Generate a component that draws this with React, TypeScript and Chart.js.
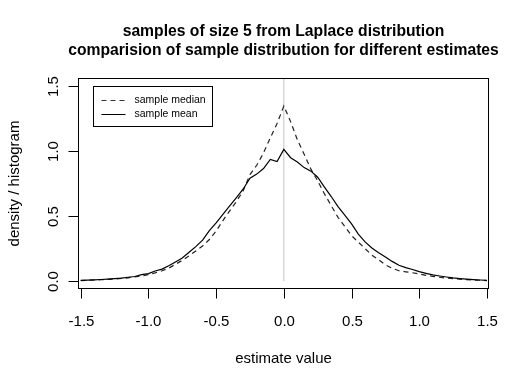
import React, { useEffect, useRef } from "react";
import { Chart, registerables } from "chart.js";

Chart.register(...registerables);

const TITLE_LINES = [
  "samples of size 5 from Laplace distribution",
  "comparision of sample distribution for different estimates",
];
const X_LABEL = "estimate value";
const Y_LABEL = "density / histogram";

const X_TICKS = [-1.5, -1.0, -0.5, 0.0, 0.5, 1.0, 1.5];
const X_TICK_LABELS = ["-1.5", "-1.0", "-0.5", "0.0", "0.5", "1.0", "1.5"];
const Y_TICKS = [0, 0.5, 1.0, 1.5];
const Y_TICK_LABELS = ["0.0", "0.5", "1.0", "1.5"];

const X_RANGE = [-1.52, 1.515];
const Y_RANGE = [-0.06, 1.56];

const SERIES_LABELS = ["sample median", "sample mean"];

const ESTIMATE_VALUES = [
  -1.5, -1.45, -1.4, -1.35, -1.3, -1.25, -1.2, -1.15, -1.1, -1.05,
  -1.0, -0.95, -0.9, -0.85, -0.8, -0.75, -0.7, -0.65, -0.6, -0.55,
  -0.5, -0.45, -0.4, -0.35, -0.3, -0.25, -0.2, -0.15, -0.1, -0.05,
  0.0, 0.05, 0.1, 0.15, 0.2, 0.25, 0.3, 0.35, 0.4, 0.45,
  0.5, 0.55, 0.6, 0.65, 0.7, 0.75, 0.8, 0.85, 0.9, 0.95,
  1.0, 1.05, 1.1, 1.15, 1.2, 1.25, 1.3, 1.35, 1.4, 1.45, 1.5,
];

const MEDIAN_DENSITY = [
  0.005, 0.007, 0.009, 0.011, 0.014, 0.017, 0.021, 0.026, 0.033, 0.04,
  0.05, 0.064, 0.08, 0.1, 0.13, 0.16, 0.195, 0.232, 0.27, 0.32,
  0.385, 0.465, 0.54, 0.612, 0.695, 0.818, 0.89, 0.985, 1.1, 1.21,
  1.345, 1.225, 1.085, 0.975, 0.86, 0.77, 0.67, 0.58, 0.49, 0.42,
  0.35, 0.3, 0.25, 0.2, 0.165, 0.125, 0.1, 0.08, 0.072, 0.065,
  0.055, 0.045, 0.037, 0.03, 0.024, 0.019, 0.015, 0.012, 0.009, 0.007, 0.005,
];

const MEAN_DENSITY = [
  0.006, 0.008, 0.01, 0.013, 0.016, 0.02, 0.024, 0.03, 0.036, 0.05,
  0.058, 0.078, 0.093, 0.118, 0.148, 0.178, 0.222, 0.265, 0.315, 0.388,
  0.447, 0.512, 0.578, 0.642, 0.708, 0.79, 0.822, 0.865, 0.935, 0.918,
  1.012, 0.948, 0.915, 0.872, 0.845, 0.798, 0.722, 0.65, 0.572, 0.508,
  0.44, 0.362, 0.302, 0.255, 0.218, 0.185, 0.152, 0.122, 0.104, 0.09,
  0.073, 0.06, 0.048, 0.04, 0.032, 0.025, 0.02, 0.016, 0.012, 0.009, 0.006,
];

const REF_LINE_X = [0, 0];
const REF_LINE_Y = [0, 1.56];

const FONT = '"Liberation Sans", Arial, Helvetica, sans-serif';

const decorPlugin = {
  id: "rdecor",
  afterDraw(chart: any) {
    const ctx = chart.ctx as CanvasRenderingContext2D;
    const { left, top, right, bottom } = chart.chartArea;
    const xs = chart.scales.x;
    const ys = chart.scales.y;
    ctx.save();
    ctx.strokeStyle = "#000";
    ctx.fillStyle = "#000";
    ctx.lineWidth = 1;
    ctx.setLineDash([]);

    // box
    const L = Math.round(left) + 0.5;
    const T = Math.round(top) + 0.5;
    const R = Math.round(right) - 0.5;
    const B = Math.round(bottom) - 0.5;
    ctx.strokeRect(L, T, R - L, B - T);

    // x ticks
    ctx.font = `15px ${FONT}`;
    ctx.textAlign = "center";
    ctx.textBaseline = "alphabetic";
    X_TICKS.forEach((v, i) => {
      const px = Math.round(xs.getPixelForValue(v)) + 0.5;
      ctx.beginPath();
      ctx.moveTo(px, B);
      ctx.lineTo(px, B + 10);
      ctx.stroke();
      ctx.fillText(X_TICK_LABELS[i], px, B + 37.5);
    });

    // y ticks
    Y_TICKS.forEach((v, i) => {
      const py = Math.round(ys.getPixelForValue(v)) + 0.5;
      ctx.beginPath();
      ctx.moveTo(L - 10, py);
      ctx.lineTo(L, py);
      ctx.stroke();
      ctx.save();
      ctx.translate(L - 20.5, py);
      ctx.rotate(-Math.PI / 2);
      ctx.textAlign = "center";
      ctx.textBaseline = "alphabetic";
      ctx.fillText(Y_TICK_LABELS[i], 0, 0);
      ctx.restore();
    });

    // axis titles
    ctx.textAlign = "center";
    ctx.textBaseline = "alphabetic";
    ctx.fillText(X_LABEL, (left + right) / 2, B + 74);
    ctx.save();
    ctx.translate(19, (top + bottom) / 2);
    ctx.rotate(-Math.PI / 2);
    ctx.fillText(Y_LABEL, 0, 0);
    ctx.restore();

    // main title
    ctx.font = `bold 15.7px ${FONT}`;
    ctx.fillText(TITLE_LINES[0], (left + right) / 2, 35.5);
    ctx.fillText(TITLE_LINES[1], (left + right) / 2, 54.5);

    // legend
    const lx = L + 15;
    const ly = T + 8;
    ctx.strokeRect(lx, ly, 119, 40);
    const styles = [[5, 4], []];
    ctx.font = `10.5px ${FONT}`;
    ctx.textAlign = "left";
    ctx.textBaseline = "middle";
    SERIES_LABELS.forEach((lab, i) => {
      const y = ly + 14 + i * 14;
      ctx.setLineDash(styles[i]);
      ctx.strokeStyle = i === 0 ? "#333" : "#000";
      ctx.beginPath();
      ctx.moveTo(lx + 8, y);
      ctx.lineTo(lx + 32, y);
      ctx.stroke();
      ctx.setLineDash([]);
      ctx.fillText(lab, lx + 41, y);
    });
    ctx.restore();
  },
};

export default function App() {
  const ref = useRef<HTMLCanvasElement | null>(null);
  useEffect(() => {
    if (!ref.current) return;
    const median = ESTIMATE_VALUES.map((x, i) => ({ x, y: MEDIAN_DENSITY[i] }));
    const mean = ESTIMATE_VALUES.map((x, i) => ({ x, y: MEAN_DENSITY[i] }));
    const refLine = REF_LINE_X.map((x, i) => ({ x, y: REF_LINE_Y[i] }));
    const chart = new Chart(ref.current, {
      type: "line",
      data: {
        datasets: [
          {
            label: SERIES_LABELS[0],
            data: median,
            borderColor: "#222",
            borderWidth: 1.2,
            borderDash: [5, 4],
            pointRadius: 0,
            tension: 0,
            fill: false,
            order: 1,
          },
          {
            label: SERIES_LABELS[1],
            data: mean,
            borderColor: "#000",
            borderWidth: 1.2,
            pointRadius: 0,
            tension: 0,
            fill: false,
            order: 0,
          },
          {
            label: "ref",
            data: refLine,
            borderColor: "#c4c4c4",
            borderWidth: 1,
            pointRadius: 0,
            fill: false,
            order: 5,
          },
        ],
      },
      options: {
        animation: false,
        responsive: false,
        maintainAspectRatio: false,
        devicePixelRatio: 1,
        layout: { padding: { top: 78, right: 40, left: 0, bottom: 0 } },
        plugins: {
          legend: { display: false },
          title: { display: false },
          tooltip: { enabled: false },
        },
        scales: {
          x: {
            type: "linear",
            min: X_RANGE[0],
            max: X_RANGE[1],
            grid: { display: false },
            border: { display: false },
            ticks: { display: false },
            afterFit: (s: any) => {
              s.height = 99;
            },
          },
          y: {
            type: "linear",
            min: Y_RANGE[0],
            max: Y_RANGE[1],
            grid: { display: false },
            border: { display: false },
            ticks: { display: false },
            afterFit: (s: any) => {
              s.width = 78;
            },
          },
        },
      },
      plugins: [decorPlugin],
    });
    return () => chart.destroy();
  }, []);
  return (
    <div style={{ position: "absolute", left: 0, top: 0, width: 529, height: 388, background: "#fff" }}>
      <canvas ref={ref} width={529} height={388} style={{ display: "block" }} />
    </div>
  );
}
